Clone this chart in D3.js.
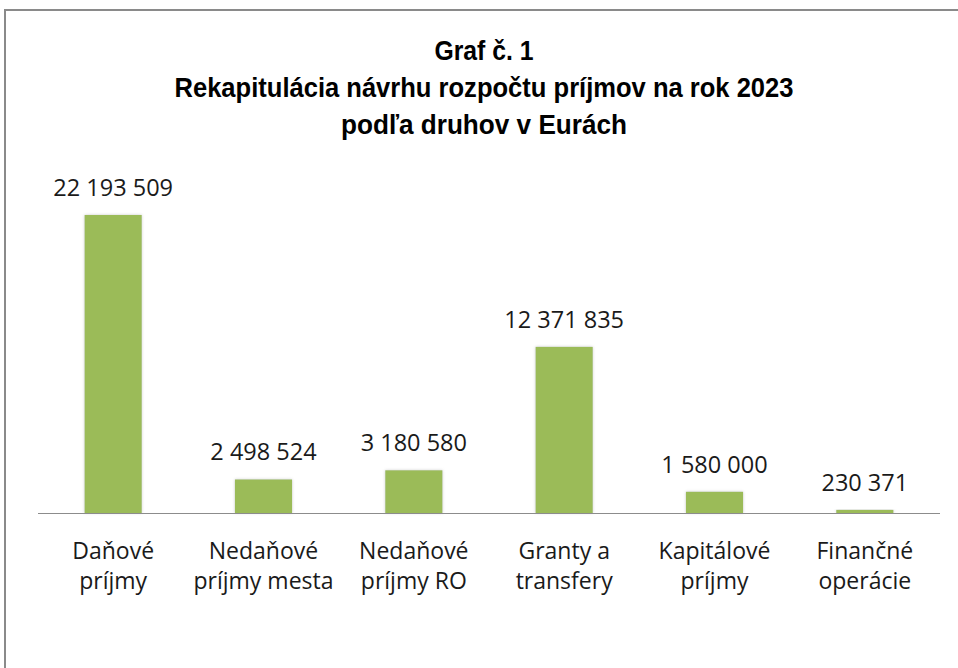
<!DOCTYPE html>
<html><head><meta charset="utf-8">
<script src="https://cdn.jsdelivr.net/npm/d3@7"></script>
<style>html,body{margin:0;padding:0;background:#fff;overflow:hidden}</style>
</head><body>
<script>
const categories = [["Daňové","príjmy"],["Nedaňové","príjmy mesta"],["Nedaňové","príjmy RO"],["Granty a","transfery"],["Kapitálové","príjmy"],["Finančné","operácie"]];
const values = [22193509, 2498524, 3180580, 12371835, 1580000, 230371];
const titleLines = ["Graf č. 1","Rekapitulácia návrhu rozpočtu príjmov na rok 2023","podľa druhov v Eurách"];

const W=958,H=668;
const svg=d3.select("body").append("svg").attr("width",W).attr("height",H);
const defs=svg.append("defs");
const f=defs.append("filter").attr("id","glow").attr("x","-20%").attr("y","-20%").attr("width","140%").attr("height","140%");
f.append("feDropShadow").attr("dx",0).attr("dy",0).attr("stdDeviation",1.6).attr("flood-color","#c8c8c8").attr("flood-opacity",0.9);

// frame
svg.append("path").attr("d",`M5,${H} L5,10 L${W},10`).attr("fill","none").attr("stroke","#8a8a8a").attr("stroke-width",2);

const x=d3.scaleBand().domain(d3.range(categories.length)).range([38,940]).paddingInner(0.62).paddingOuter(0.31);
const y=d3.scaleLinear().domain([0,25000000]).range([513,177.3]);

const tg=svg.append("g");
const titleW=[99,619,286];
titleLines.forEach((t,i)=>{
  tg.append("text").attr("x",484).attr("y",60+i*37).attr("text-anchor","middle")
    .attr("font-family","'Liberation Sans Narrow','Arial Narrow','Liberation Sans',Arial,sans-serif")
    .attr("font-weight","bold").attr("font-size",28).attr("fill","#000")
    .attr("textLength",titleW[i]).attr("lengthAdjust","spacingAndGlyphs").text(t);
});

svg.append("g").selectAll("rect").data(values).join("rect")
  .attr("x",(d,i)=>x(i)).attr("width",x.bandwidth())
  .attr("y",d=>y(d)).attr("height",d=>y(0)-y(d))
  .attr("fill","#9bbb59").attr("filter","url(#glow)");

svg.append("line").attr("x1",38).attr("x2",940).attr("y1",y(0)+0.5).attr("y2",y(0)+0.5).attr("stroke","#8c8c8c").attr("stroke-width",1.2);

const fmt=v=>d3.format(",")(v).replace(/,/g," ");
svg.append("g").selectAll("text").data(values).join("text")
  .attr("x",(d,i)=>x(i)+x.bandwidth()/2).attr("y",d=>y(d)-19)
  .attr("text-anchor","middle").attr("font-family","'Open Sans',sans-serif").attr("font-size",23.5)
  .attr("fill","#1a1a1a").text(fmt);

const cg=svg.append("g").selectAll("text").data(categories).join("text")
  .attr("x",(d,i)=>x(i)+x.bandwidth()/2).attr("y",559)
  .attr("text-anchor","middle").attr("font-family","'Open Sans',sans-serif").attr("font-size",23)
  .attr("fill","#1a1a1a");
cg.selectAll("tspan").data(d=>d).join("tspan").attr("x",function(){return this.parentNode.getAttribute("x");})
  .attr("dy",(d,i)=>i?30:0).text(d=>d);
</script>
</body></html>
